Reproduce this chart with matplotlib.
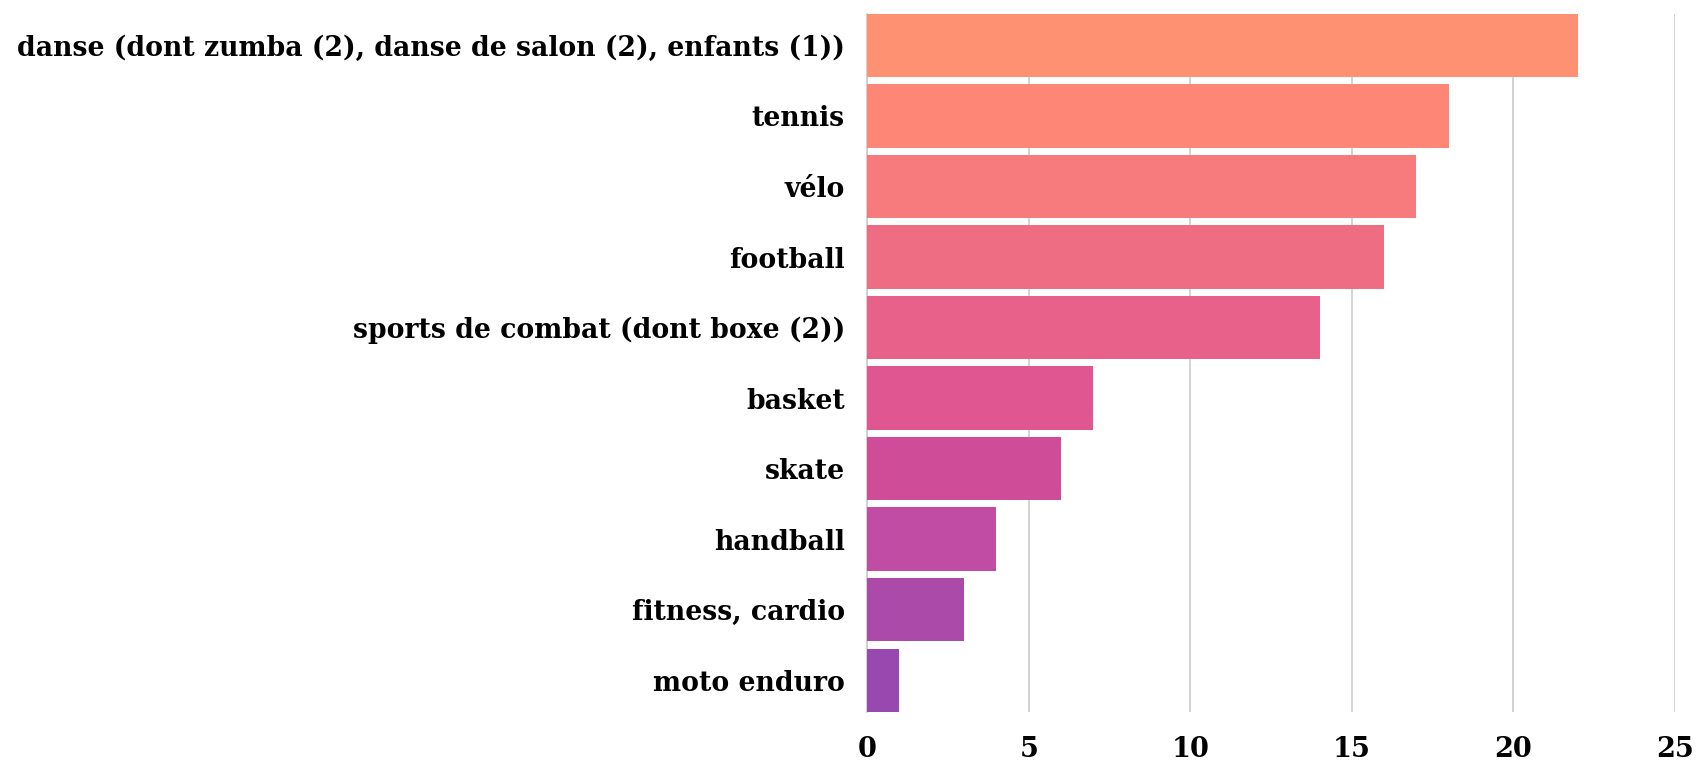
import matplotlib.pyplot as plt

# données
sports = ["danse (dont zumba (2), danse de salon (2), enfants (1))", "tennis", "vélo",
          "football", "sports de combat (dont boxe (2))", "basket", "skate",
          "handball", "fitness, cardio", "moto enduro"]
counts = [22, 18, 17, 16, 14, 7, 6, 4, 3, 1]
bar_colors = ["#ff9173", "#fe8677", "#f77a7c", "#ef6d83", "#e8618a", "#df5690",
              "#cf4c98", "#c04ca3", "#ac4aaa", "#9749b0"]
xticks = [0, 5, 10, 15, 20, 25]

plt.rcParams['font.family'] = ['DejaVu Serif']
plt.rcParams['font.weight'] = 'bold'

fig = plt.figure(figsize=(16.97, 7.62), dpi=100)
ax = fig.add_axes([0.511, 0.0656, 0.476, 0.9164])

ax.barh(range(len(sports)), counts, height=0.9, color=bar_colors, linewidth=0, zorder=3)

ax.set_xlim(0, 25)
ax.set_ylim(len(sports) - 0.55, -0.45)
ax.set_xticks(xticks)
ax.set_xticklabels([str(t) for t in xticks], fontsize=19.5, fontweight='bold')
ax.set_yticks(range(len(sports)))
ax.set_yticklabels(sports, fontsize=19.2, fontweight='bold')
ax.tick_params(axis='both', length=0)
ax.tick_params(axis='y', pad=16)
ax.tick_params(axis='x', pad=17)

ax.grid(axis='x', color='#cccccc', linewidth=1.2, zorder=0)
for s in ['top', 'right', 'bottom']:
    ax.spines[s].set_visible(False)
ax.spines['left'].set_color('#cccccc')
ax.spines['left'].set_linewidth(1.2)

fig.savefig('out.png', dpi=100)
